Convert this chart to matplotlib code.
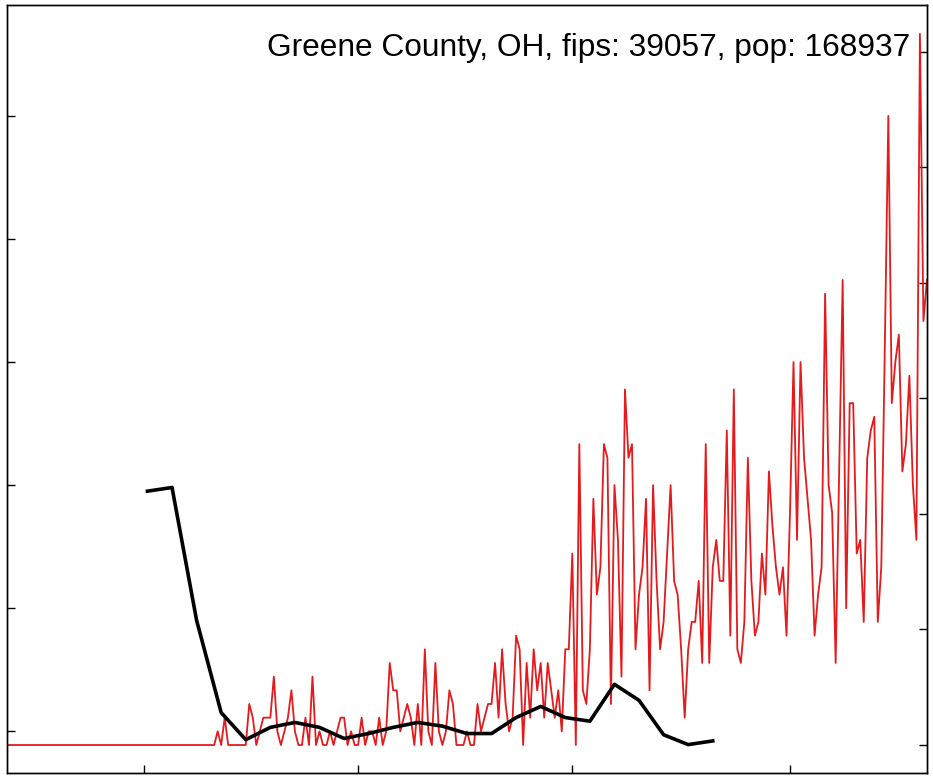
import pandas as pd
import matplotlib
matplotlib.use('Agg')
import matplotlib.pyplot as plt

county = 'Greene County, OH'
fips = 39057
pop = 168937

# daily new cases, 2020-01-22 .. 2020-10-10
daily_cases = (
    [0] * 60
    + [1, 0, 2, 0, 0, 0, 0, 0, 0, 3, 2, 0, 1, 2, 2, 2, 5, 1, 0, 1, 2, 4, 1, 0, 0, 2, 0, 5,
       0, 1, 0, 0, 1, 0, 1, 2, 2, 0, 1, 0, 0, 2]
    + [0, 1, 1, 0, 2, 0, 1, 6, 4, 4, 1, 2, 3, 2, 0, 3, 0, 7, 1, 0, 6, 1, 0, 1, 4, 3, 0, 0,
       0, 1, 0, 0, 3, 1, 2, 3, 3, 6, 2, 7, 3, 1, 2, 8]
    + [7, 0, 6, 2, 7, 4, 6, 2, 6, 4, 2, 4, 1, 7, 7, 14, 0, 22, 4, 3, 7, 18, 11, 13, 22, 21,
       3, 19, 15, 5, 26, 21, 22, 7, 11, 13]
    + [18, 4, 19, 12, 7, 9, 14, 19, 12, 11, 7, 2, 7, 9, 9, 12, 6, 22, 6, 13, 15, 12, 12, 23,
       8, 26, 7, 6, 9, 21, 12, 8, 9, 14, 11]
    + [20, 16, 13, 11, 13, 8, 17, 28, 15, 28, 21, 18, 15, 8, 11, 13, 33, 19, 17, 6, 20, 34,
       10, 25, 25]
    + [14, 15, 9, 21, 23, 24, 9, 13, 29, 46, 25, 28, 30, 20, 22, 27, 19, 15, 52, 31, 34]
)
daily_dates = pd.date_range('2020-01-22', periods=len(daily_cases), freq='D')

# weekly indicator (left axis), starting 2020-03-02
weekly_values = [1.95, 1.98, 0.90, 0.15, -0.07, 0.03, 0.07, 0.03, -0.06, -0.02, 0.03, 0.07,
                 0.04, -0.02, -0.02, 0.11, 0.20, 0.11, 0.08, 0.38, 0.25, -0.03, -0.11, -0.08]
weekly_dates = pd.date_range('2020-03-02', periods=len(weekly_values), freq='7D')

month_ticks = pd.to_datetime(['2020-03-01', '2020-05-01', '2020-07-01', '2020-09-01'])

cases_per_100k = [c * 1e5 / pop for c in daily_cases]

fig = plt.figure(figsize=(9.33, 7.78), dpi=100)
ax = fig.add_axes([0.0075, 0.0064, 0.986, 0.9872])
ax2 = ax.twinx()

ax.plot(weekly_dates, weekly_values, color='black', linewidth=2.6, zorder=3)
ax2.plot(daily_dates, cases_per_100k, color='#e41a1c', linewidth=1.3)
ax.set_zorder(ax2.get_zorder() + 1)
ax.patch.set_visible(False)

ax.set_xlim(daily_dates[0], daily_dates[-1])
ax.set_ylim(-0.341, 5.902)
ax2.set_ylim(-1.212, 32.03)

ax.set_xticks(month_ticks)
ax.set_yticks(range(0, 6))
ax2.set_yticks(range(0, 31, 5))

ax.tick_params(axis='both', direction='in', length=6, width=1.0,
               labelbottom=False, labelleft=False, top=False, right=False)
ax2.tick_params(axis='y', direction='in', length=6, width=1.0, labelright=False)
for a in (ax, ax2):
    for s in a.spines.values():
        s.set_linewidth(1.0)

ax.text(0.9815, 0.9336, f'{county}, fips: {fips}, pop: {pop}', transform=ax.transAxes,
        ha='right', va='baseline', fontsize=22.8, family='Liberation Sans')

plt.savefig('out.png', dpi=100)
